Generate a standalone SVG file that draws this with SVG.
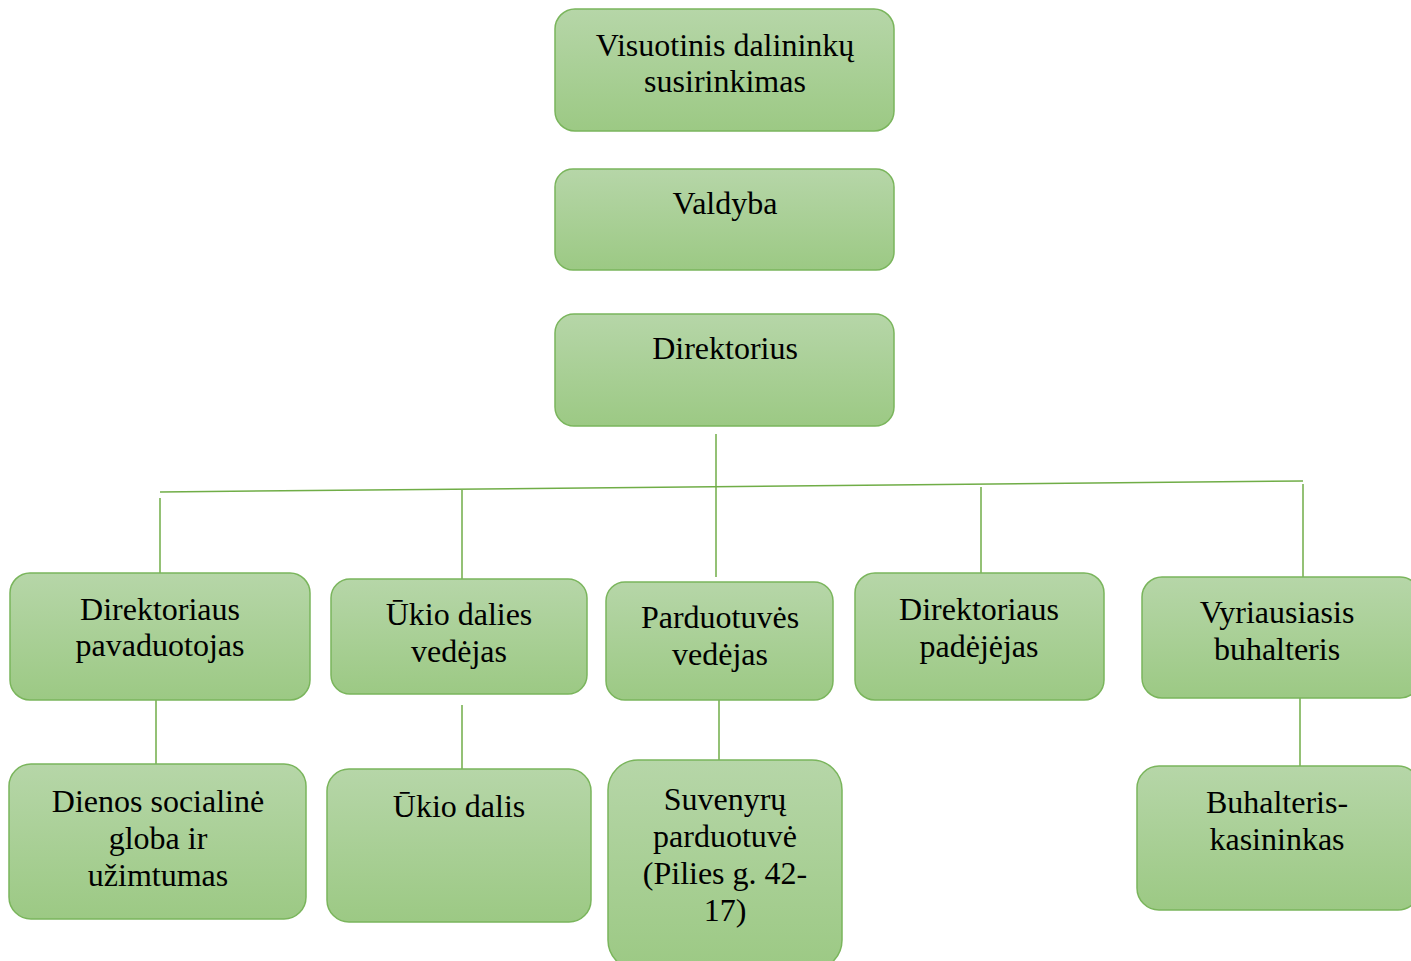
<svg xmlns="http://www.w3.org/2000/svg" width="1411" height="961" viewBox="0 0 1411 961">
<defs>
<linearGradient id="g" x1="0" y1="0" x2="0" y2="1">
<stop offset="0" stop-color="#b6d6a8"/>
<stop offset="1" stop-color="#9cc984"/>
</linearGradient>
</defs>
<style>
.box{fill:url(#g);stroke:#7ab55c;stroke-width:1.5}
.t{font-family:"Liberation Serif","Times New Roman",serif;font-size:32px;fill:#000;text-anchor:middle}
.c{stroke:#70ad47;stroke-width:1.5;fill:none}
</style>
<rect width="1411" height="961" fill="#fff"/>
<g id="connectors">
<line class="c" x1="716" y1="434" x2="716" y2="577"/>
<line class="c" x1="160" y1="492" x2="1303" y2="481"/>
<line class="c" x1="160" y1="498" x2="160" y2="573"/>
<line class="c" x1="462" y1="490" x2="462" y2="579"/>
<line class="c" x1="981" y1="487" x2="981" y2="573"/>
<line class="c" x1="1303" y1="484" x2="1303" y2="577"/>
<line class="c" x1="156" y1="700" x2="156" y2="764"/>
<line class="c" x1="462" y1="705" x2="462" y2="771"/>
<line class="c" x1="719" y1="700" x2="719" y2="760"/>
<line class="c" x1="1300" y1="698" x2="1300" y2="766"/>
</g>
<g id="n1"><rect class="box" x="555" y="9" width="339" height="122" rx="20"/><text class="t" x="725" y="56">Visuotinis dalininkų</text><text class="t" x="725" y="92">susirinkimas</text></g>
<g id="n2"><rect class="box" x="555" y="169" width="339" height="101" rx="18"/><text class="t" x="725" y="214">Valdyba</text></g>
<g id="n3"><rect class="box" x="555" y="314" width="339" height="112" rx="19"/><text class="t" x="725" y="359">Direktorius</text></g>
<g id="n4"><rect class="box" x="10" y="573" width="300" height="127" rx="20"/><text class="t" x="160" y="620">Direktoriaus</text><text class="t" x="160" y="656">pavaduotojas</text></g>
<g id="n5"><rect class="box" x="331" y="579" width="256" height="115" rx="19"/><text class="t" x="459" y="625">Ūkio dalies</text><text class="t" x="459" y="662">vedėjas</text></g>
<g id="n6"><rect class="box" x="606" y="582" width="227" height="118" rx="19"/><text class="t" x="720" y="628">Parduotuvės</text><text class="t" x="720" y="665">vedėjas</text></g>
<g id="n7"><rect class="box" x="855" y="573" width="249" height="127" rx="20"/><text class="t" x="979" y="620">Direktoriaus</text><text class="t" x="979" y="657">padėjėjas</text></g>
<g id="n8"><rect class="box" x="1142" y="577" width="278" height="121" rx="20"/><text class="t" x="1277" y="623">Vyriausiasis</text><text class="t" x="1277" y="660">buhalteris</text></g>
<g id="n9"><rect class="box" x="9" y="764" width="297" height="155" rx="22"/><text class="t" x="158" y="812">Dienos socialinė</text><text class="t" x="158" y="849">globa ir</text><text class="t" x="158" y="886">užimtumas</text></g>
<g id="n10"><rect class="box" x="327" y="769" width="264" height="153" rx="22"/><text class="t" x="459" y="817">Ūkio dalis</text></g>
<g id="n11"><rect class="box" x="608" y="760" width="234" height="210" rx="30"/><text class="t" x="725" y="810">Suvenyrų</text><text class="t" x="725" y="847">parduotuvė</text><text class="t" x="725" y="884">(Pilies g. 42-</text><text class="t" x="725" y="921">17)</text></g>
<g id="n12"><rect class="box" x="1137" y="766" width="283" height="144" rx="22"/><text class="t" x="1277" y="813">Buhalteris-</text><text class="t" x="1277" y="850">kasininkas</text></g>
</svg>
